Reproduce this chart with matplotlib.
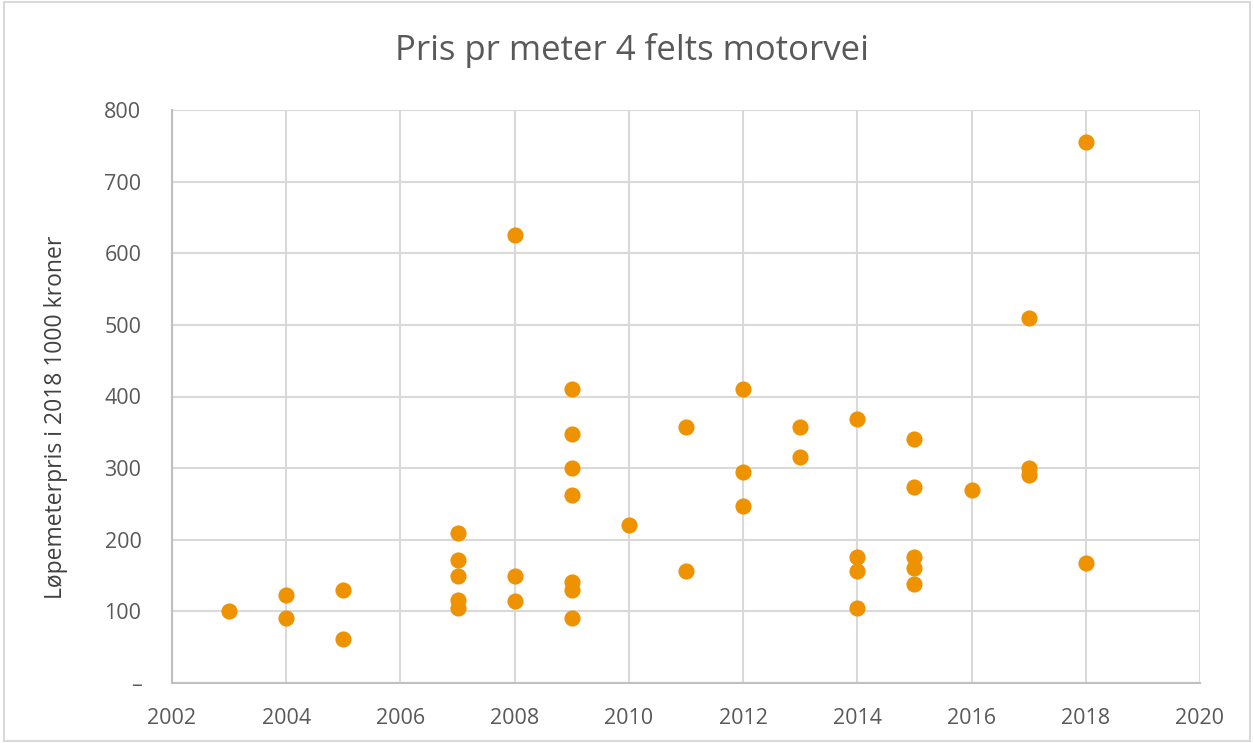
import matplotlib
matplotlib.use("Agg")
import matplotlib.pyplot as plt

# år og løpemeterpris (1000 kr, 2018-kroner)
years = [2003, 2004, 2004, 2005, 2005,
         2007, 2007, 2007, 2007, 2007,
         2008, 2008, 2008,
         2009, 2009, 2009, 2009, 2009, 2009, 2009,
         2010, 2011, 2011,
         2012, 2012, 2012, 2013, 2013,
         2014, 2014, 2014, 2014,
         2015, 2015, 2015, 2015, 2015,
         2016, 2017, 2017, 2017, 2018, 2018]
prices = [100, 123, 91, 130, 62,
          209, 172, 150, 116, 105,
          625, 150, 114,
          410, 347, 300, 262, 141, 130, 91,
          220, 358, 156,
          411, 294, 247, 358, 315,
          369, 176, 156, 105,
          340, 273, 176, 160, 138,
          270, 510, 300, 290, 755, 167]

x_ticks = list(range(2002, 2021, 2))
y_ticks = list(range(0, 801, 100))
y_labels = ["–"] + [str(v) for v in y_ticks[1:]]

plt.rcParams["font.family"] = ["Open Sans", "DejaVu Sans"]
grey = "#595959"

fig = plt.figure(figsize=(12.54, 7.43), dpi=100)
ax = fig.add_axes([172 / 1254, 1 - 683 / 743, (1200 - 172) / 1254, (683 - 110) / 743])

ax.scatter(years, prices, s=135, color="#EE9200", zorder=3, linewidths=0)

ax.set_xlim(2002, 2020)
ax.set_ylim(0, 800)
ax.set_xticks(x_ticks)
ax.set_yticks(y_ticks)
ax.set_yticklabels(y_labels)
ax.grid(True, color="#D9D9D9", linewidth=1.5)
ax.set_axisbelow(True)
for side in ["top", "right"]:
    ax.spines[side].set_visible(False)
ax.spines["left"].set_color("#BFBFBF")
ax.spines["bottom"].set_color("#BFBFBF")
ax.spines["left"].set_linewidth(1.5)
ax.spines["bottom"].set_linewidth(1.5)
ax.tick_params(length=0, labelsize=15.5, colors=grey)
ax.tick_params(axis="y", pad=22)
ax.tick_params(axis="x", pad=18)

ax.set_ylabel("Løpemeterpris i 2018 1000 kroner", fontsize=16.5, color="#404040")
ax.yaxis.set_label_coords(-0.101, 0.464)
fig.suptitle("Pris pr meter 4 felts motorvei", fontsize=25, color=grey, x=632 / 1254,
             y=1 - 50 / 743, va="center")

# ramme rundt hele figuren
fig.patches.append(plt.Rectangle((0.003, 0.003), 0.994, 0.994, transform=fig.transFigure,
                                 fill=False, edgecolor="#D9D9D9", linewidth=1.5))

fig.savefig("out.png", dpi=100)
